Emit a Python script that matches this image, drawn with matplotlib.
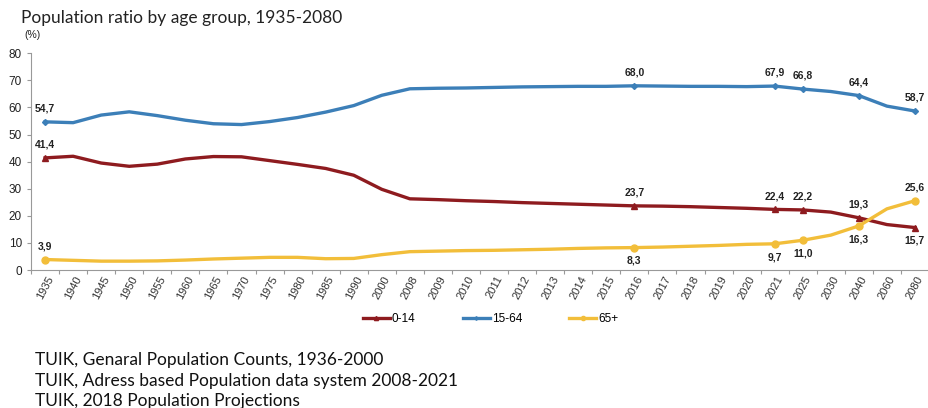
import numpy as np
import matplotlib.pyplot as plt

# ---------------------------------------------
#  data (%)
# ---------------------------------------------
years = ["1935", "1940", "1945", "1950", "1955", "1960", "1965", "1970", "1975",
         "1980", "1985", "1990", "2000", "2008", "2009", "2010", "2011", "2012",
         "2013", "2014", "2015", "2016", "2017", "2018", "2019", "2020", "2021",
         "2025", "2030", "2040", "2060", "2080"]

age_0_14 = [41.4, 42.0, 39.5, 38.3, 39.1, 41.0, 41.9, 41.8, 40.4, 39.0, 37.5,
            35.0, 29.8, 26.3, 26.0, 25.6, 25.3, 24.9, 24.6, 24.3, 24.0, 23.7,
            23.6, 23.4, 23.1, 22.8, 22.4, 22.2, 21.4, 19.3, 16.8, 15.7]
age_15_64 = [54.7, 54.4, 57.2, 58.4, 57.0, 55.3, 54.0, 53.7, 54.8, 56.3, 58.3,
             60.7, 64.5, 66.9, 67.1, 67.2, 67.4, 67.6, 67.7, 67.8, 67.8, 68.0,
             67.9, 67.8, 67.8, 67.7, 67.9, 66.8, 65.9, 64.4, 60.5, 58.7]
age_65 = [3.9, 3.6, 3.3, 3.3, 3.4, 3.7, 4.1, 4.4, 4.7, 4.7, 4.2, 4.3, 5.7, 6.8,
          7.0, 7.2, 7.3, 7.5, 7.7, 8.0, 8.2, 8.3, 8.5, 8.8, 9.1, 9.5, 9.7, 11.0,
          12.9, 16.3, 22.6, 25.6]

labelled = [0, 21, 26, 27, 29, 31]   # points with a marker and a value

# ---------------------------------------------
#  plot
# ---------------------------------------------
fig = plt.figure(figsize=(9.29, 4.08), dpi=100)
ax = fig.add_axes([0.0334, 0.338, 0.9666, 0.5314])

x = np.arange(len(years))
red, blue, gold = "#8E1B1F", "#3C7FB8", "#F2BE3A"

ax.plot(x, age_15_64, color=blue, lw=2.4, marker="D", ms=3, markevery=labelled,
        label="15-64", zorder=3)
ax.plot(x, age_0_14, color=red, lw=2.4, marker="^", ms=5, markevery=labelled,
        label="0-14", zorder=3)
ax.plot(x, age_65, color=gold, lw=2.4, marker="o", ms=5, markevery=labelled,
        label="65+", zorder=3)


def fmt(v):
    return f"{v:.1f}".replace(".", ",")


lab = dict(fontsize=7.5, fontweight="bold", family="Liberation Sans",
           color="#222222", ha="center", textcoords="offset points")
for i in labelled:
    ax.annotate(fmt(age_15_64[i]), (x[i], age_15_64[i]), xytext=(0, 6),
                va="bottom", **lab)
    if i == 31:
        ax.annotate(fmt(age_0_14[i]), (x[i], age_0_14[i]), xytext=(0, -6),
                    va="top", **lab)
        ax.annotate(fmt(age_65[i]), (x[i], age_65[i]), xytext=(0, 6),
                    va="bottom", **lab)
    else:
        ax.annotate(fmt(age_0_14[i]), (x[i], age_0_14[i]), xytext=(0, 6),
                    va="bottom", **lab)
        dy, va = (6, "bottom") if i == 0 else (-6, "top")
        ax.annotate(fmt(age_65[i]), (x[i], age_65[i]), xytext=(0, dy),
                    va=va, **lab)

ax.set_xlim(-0.5, 31.37)
ax.set_ylim(0, 80)
ax.set_yticks(range(0, 81, 10))
ax.set_xticks(np.arange(len(years) + 1) - 0.5, minor=False)
ax.set_xticklabels([])
ax.set_xticks(x, minor=True)
ax.set_xticklabels(years, minor=True, rotation=62, ha="center", va="top",
                   fontsize=8, family="Liberation Sans", color="#333333")
ax.tick_params(axis="x", which="minor", length=0, pad=3)
ax.tick_params(axis="x", which="major", length=3, color="#999999")
ax.tick_params(axis="y", length=3, color="#999999", labelsize=8.5,
               labelcolor="#222222")
for t in ax.get_yticklabels():
    t.set_family("Liberation Sans")

for s in ["top", "right"]:
    ax.spines[s].set_visible(False)
for s in ["left", "bottom"]:
    ax.spines[s].set_color("#999999")

h, l = ax.get_legend_handles_labels()
order = [1, 0, 2]
leg = fig.legend([h[k] for k in order], [l[k] for k in order], ncol=3,
                 loc="center", bbox_to_anchor=(0.528, 0.217), frameon=False,
                 prop={"family": "Liberation Sans", "size": 8.5},
                 handlelength=2.3, handletextpad=0.15, columnspacing=4.0,
                 markerscale=0.6)

fig.text(0.0226, 0.956, "Population ratio by age group, 1935-2080",
         fontsize=12.5, family="Lato", color="#222222", va="center")
fig.text(0.026, 0.913, "(%)", fontsize=7.5, family="Liberation Sans",
         color="#222222", va="center")

foot = ["TUIK, Genaral Population Counts, 1936-2000",
        "TUIK, Adress based Population data system 2008-2021",
        "TUIK, 2018 Population Projections"]
for k, line in enumerate(foot):
    fig.text(0.038, 0.1176 - k * 0.0503, line, fontsize=12.5, family="Lato",
             color="#111111", va="center")

fig.savefig("out.png", dpi=100)
